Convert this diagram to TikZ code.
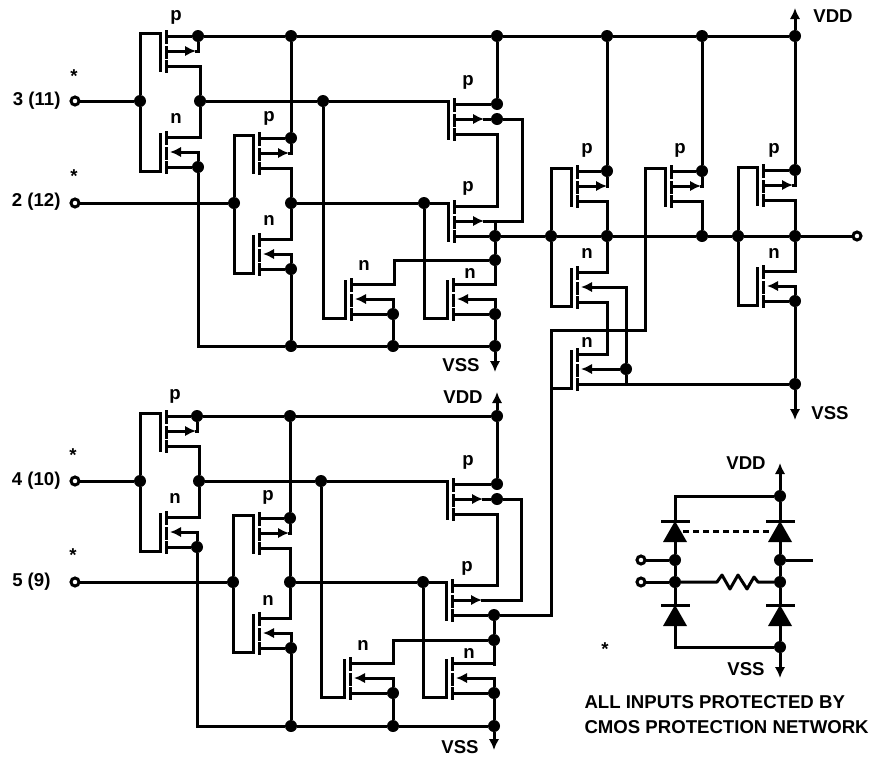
\documentclass[tikz,border=0pt]{standalone}
\usepackage{fontspec}
\usetikzlibrary{arrows.meta}
\setmainfont{Liberation Sans}

% gate bar and broken channel of one transistor
\newcommand{\mosbody}[3]{
\draw (#2,#3-18) -- (#2,#3+19);
\draw (#2+6,#3-20) -- (#2+6,#3-9) (#2+6,#3-4) -- (#2+6,#3+6) (#2+6,#3+10) -- (#2+6,#3+20);
\coordinate (#1-s) at (#2+6,#3-15);
\coordinate (#1-b) at (#2+6,#3);
\coordinate (#1-d) at (#2+6,#3+15);
}
\newcommand{\mosp}[5]{
\mosbody{#1}{#2}{#3}
\coordinate (#1-g) at (#2,#3-18);
\coordinate (#1-a) at (#2+36,#3);
\draw[->] (#1-b) -- (#1-a);
\node[mytext] (#1-t) at (#4,#5) {p};
}
\newcommand{\mosn}[5]{
\mosbody{#1}{#2}{#3}
\coordinate (#1-g) at (#2,#3+19);
\coordinate (#1-a) at (#2+10,#3);
\node[mytext] (#1-t) at (#4,#5) {n};
}
\newcommand{\diode}[3]{
\draw (#2-13,#3) -- (#2+13,#3);
\fill (#2,#3) -- (#2-12,#3+21) -- (#2+12,#3+21) -- cycle;
\coordinate (#1-c) at (#2,#3);
\coordinate (#1-a) at (#2,#3+21);
\coordinate (#1-e) at (#2+8,#3+10);
\coordinate (#1-w) at (#2-10,#3+10);
}

\begin{document}
\begin{tikzpicture}[x=1pt,y=-1pt,>={Latex[length=11pt,width=10.5pt]},line width=3pt,line cap=rect,
mydot/.style={circle,fill,inner sep=0pt,minimum size=12pt},
myport/.style={circle,draw,fill=white,inner sep=0pt,minimum size=8pt},
mytext/.style={inner sep=0pt,font=\bfseries\fontsize{18.6}{20}\selectfont}]

\useasboundingbox (0,0) rectangle (869,758);

% upper left gates
\mosp{t1}{160}{51}{176}{17}
\mosn{t2}{160}{152}{176}{118}
\mosp{t3}{253}{153}{269}{118}
\mosn{t4}{253}{254}{269}{220}
\mosp{t5}{448}{119}{468}{82}
\mosp{t6}{448}{221}{468}{188}
\mosn{t7}{345}{299}{364}{265}
\mosn{t8}{447}{299}{470}{273}
% output stages
\mosp{t9}{571}{186}{587}{150}
\mosn{t10}{571}{287}{587}{253}
\mosn{t11}{571}{369}{587}{342}
\mosp{t12}{665}{186}{680}{150}
\mosp{t13}{757}{185}{774}{150}
\mosn{t14}{757}{286}{774}{253}
% lower left gates
\mosp{t15}{160}{431}{175}{396}
\mosn{t16}{160}{532}{175}{498}
\mosp{t17}{253}{533}{268}{497}
\mosn{t18}{253}{633}{268}{600}
\mosp{t19}{447}{499}{468}{462}
\mosp{t20}{446}{600}{467}{568}
\mosn{t21}{344}{678}{363}{645}
\mosn{t22}{446}{678}{469}{653}

\coordinate[mydot](d1) at (198,36);
\coordinate[mydot](d2) at (291,36);
\coordinate[mydot](d3) at (497,36);
\coordinate[mydot](d4) at (607,36);
\coordinate[mydot](d5) at (702,36);
\coordinate[mydot](d6) at (795,36);
\coordinate[mydot](d7) at (323,101);
\coordinate[mydot](d8) at (198,167);
\coordinate[mydot](d9) at (291,138);
\coordinate[mydot](d10) at (424,203);
\coordinate[mydot](d11) at (291,269);
\coordinate[mydot](d12) at (497,104);
\coordinate[mydot](d13) at (497,119);
\coordinate[mydot](d14) at (495,260);
\coordinate[mydot](d15) at (393,314);
\coordinate[mydot](d16) at (495,314);
\coordinate[mydot](d18) at (291,346);
\coordinate[mydot](d19) at (393,346);
\coordinate[mydot](d20) at (495,346);
\coordinate[mydot](d21) at (607,171);
\coordinate[mydot](d22) at (702,171);
\coordinate[mydot](d23) at (795,170);
\coordinate[mydot](d24) at (626,369);
\coordinate[mydot](d25) at (795,384);
\coordinate[mydot](d26) at (795,301);
\coordinate[mydot](n1) at (140,101);
\coordinate[mydot](n2) at (200,101);
\coordinate[mydot](n3) at (234,203);
\coordinate[mydot](n4) at (291,203);
\coordinate[mydot](n5) at (495,236);
\coordinate[mydot](n6) at (551,236);
\coordinate[mydot](n7) at (607,236);
\coordinate[mydot](n8) at (702,236);
\coordinate[mydot](n9) at (738,236);
\coordinate[mydot](n10) at (795,236);

\coordinate[mydot](e1) at (197,416);
\coordinate[mydot](e2) at (290,416);
\coordinate[mydot](e3) at (497,416);
\coordinate[mydot](e4) at (140,481);
\coordinate[mydot](e5) at (199,481);
\coordinate[mydot](e6) at (321,481);
\coordinate[mydot](e7) at (197,547);
\coordinate[mydot](e8) at (290,518);
\coordinate[mydot](e9) at (290,582);
\coordinate[mydot](e10) at (233,582);
\coordinate[mydot](e11) at (291,726);
\coordinate[mydot](e12) at (423,582);
\coordinate[mydot](e13) at (291,648);
\coordinate[mydot](e14) at (497,484);
\coordinate[mydot](e15) at (497,499);
\coordinate[mydot](e16) at (494,615);
\coordinate[mydot](e17) at (494,640);
\coordinate[mydot](e18) at (393,693);
\coordinate[mydot](e19) at (494,693);
\coordinate[mydot](e20) at (393,726);
\coordinate[mydot](e21) at (494,726);

\coordinate[myport](i3) at (75,101);
\coordinate[myport](i2) at (75,203);
\coordinate[myport](i4) at (75,481);
\coordinate[myport](i5) at (75,582);
\coordinate[myport](o1) at (857,236);

\coordinate (vdd1) at (795,8);
\coordinate (vss1) at (495,372);
\coordinate (vss2) at (795,420);
\coordinate (vdd2) at (497,392);
\coordinate (vss3) at (494,750);
\coordinate (c1) at (522,119);
\coordinate (c2) at (522,221);
\coordinate (c3) at (521,499);
\coordinate (c4) at (521,600);
\coordinate (g1) at (551,330);
\coordinate (g2) at (645,330);
\coordinate (g3) at (551,615);

% upper left wiring
\draw (d1) -- (d2) -- (d3) -- (d4) -- (d5) -- (d6);
\draw[->] (d6) -- (vdd1);
\draw (i3) -- (n1);
\draw (i2) -- (n3);
\draw (t1-g) -| (n1) |- (t2-g);
\draw (t1-s) -- (d1);
\draw (d1) |- (t1-a);
\draw (t1-d) -| (n2) |- (t2-s);
\draw (t2-d) -- (d8);
\draw[->] (d8) |- (t2-a);
\draw (d8) |- (d18);
\draw (d18) -- (d19) -- (d20);
\draw[->] (d20) -- (vss1);
\draw (d2) -- (d9);
\draw (t3-s) -- (d9);
\draw (d9) |- (t3-a);
\draw (t3-g) -| (n3) |- (t4-g);
\draw (t3-d) -| (n4) |- (t4-s);
\draw (t4-d) -- (d11);
\draw[->] (d11) |- (t4-a);
\draw (d11) -- (d18);
\draw (n2) -- (d7) -- (t5-g);
\draw (d7) |- (t7-g);
\draw (n4) -- (d10) -- (t6-g);
\draw (d10) |- (t8-g);
\draw (d3) -- (d12) -- (d13);
\draw (t5-s) -- (d12);
\draw (t5-a) -- (d13) -- (c1) -- (c2) -- (t6-a);
\draw (t5-d) -- ++(43,0) |- (t6-s);
\draw (t6-d) -- (n5);
\draw (d14) -- (n5) -- ++(0,-15);
\draw (t8-s) -| (d14);
\draw (t7-s) -- ++(43,0) |- (d14);
\draw (t7-d) -- (d15);
\draw[->] (d15) |- (t7-a);
\draw (d15) -- (d19);
\draw (t8-d) -- (d16);
\draw[->] (d16) |- (t8-a);
\draw (d16) -- (d20);

% output stages
\draw (n5) -- (n6) -- (n7) -- (n8) -- (n9) -- (n10) -- (o1);
\draw (t9-g) -| (n6) |- (t10-g);
\draw (d4) -- (d21);
\draw (t9-s) -- (d21);
\draw (d21) |- (t9-a);
\draw (t9-d) -| (n7) |- (t10-s);
\draw[->] (d24) |- (t10-a);
\draw[->] (d24) -- (t11-a);
\draw (d24) -- ++(0,15);
\draw (t10-d) -- ++(30,0) |- (t11-s);
\draw (t11-d) -- (d25);
\draw[->] (d25) -- (vss2);
\draw (d25) -- (d26);
\draw (t12-g) -| (g2) -- (g1) -- (g3);
\draw (t11-g) -- (t11-g -| g1);
\draw (d5) -- (d22);
\draw (t12-s) -- (d22);
\draw (d22) |- (t12-a);
\draw (t12-d) -| (n8);
\draw (t13-g) -| (n9) |- (t14-g);
\draw (d6) -- (d23);
\draw (t13-s) -- (d23);
\draw (d23) |- (t13-a);
\draw (t13-d) -| (n10) |- (t14-s);
\draw (t14-d) -- (d26);
\draw[->] (d26) |- (t14-a);

% lower left wiring
\draw (e1) -- (e2) -- (e3);
\draw[->] (e3) -- (vdd2);
\draw (i4) -- (e4);
\draw (i5) -- (e10);
\draw (t15-g) -| (e4) |- (t16-g);
\draw (t15-s) -- (e1);
\draw (e1) |- (t15-a);
\draw (t15-d) -| (e5) |- (t16-s);
\draw (t16-d) -- (e7);
\draw[->] (e7) |- (t16-a);
\draw (e7) |- (e11);
\draw (e11) -- (e20) -- (e21);
\draw[->] (e21) -- (vss3);
\draw (e2) -- (e8);
\draw (t17-s) -- (e8);
\draw (e8) |- (t17-a);
\draw (t17-g) -| (e10) |- (t18-g);
\draw (t17-d) -| (e9) |- (t18-s);
\draw (t18-d) -- (e13);
\draw[->] (e13) |- (t18-a);
\draw (e13) -- (e11);
\draw (e5) -- (e6) -- (t19-g);
\draw (e6) |- (t21-g);
\draw (e9) -- (e12) -- (t20-g);
\draw (e12) |- (t22-g);
\draw (e3) -- (e14) -- (e15);
\draw (t19-s) -- (e14);
\draw (t19-a) -- (e15) -- (c3) -- (c4) -- (t20-a);
\draw (t19-d) -- ++(44,0) |- (t20-s);
\draw (t20-d) -- (e16) -- (g3);
\draw (e16) -- (e17) -- ++(0,24);
\draw (t22-s) -| (e17);
\draw (t21-s) -- ++(43,0) |- (e17);
\draw (t21-d) -- (e18);
\draw[->] (e18) |- (t21-a);
\draw (e18) -- (e20);
\draw (t22-d) -- (e19);
\draw[->] (e19) |- (t22-a);
\draw (e19) -- (e21);

% protection network
\diode{dl1}{675}{521}
\diode{dl2}{675}{605}
\diode{dr1}{780}{521}
\diode{dr2}{780}{605}
\coordinate[mydot](p1) at (780,496);
\coordinate[mydot](p2) at (675,560);
\coordinate[mydot](p3) at (675,582);
\coordinate[mydot](p4) at (780,560);
\coordinate[mydot](p5) at (780,582);
\coordinate[mydot](p6) at (780,647);
\coordinate[myport](i6) at (641,560);
\coordinate[myport](i7) at (641,582);
\coordinate (vdd3) at (780,463);
\coordinate (vss4) at (780,678);
\coordinate (s1) at (811,560);
\coordinate (r1) at (717,582);
\coordinate (r2) at (758,582);

\draw[->] (p1) -- (vdd3);
\draw (p1) -| (dl1-c);
\draw (p1) -- (dr1-c);
\draw (dl1-a) -- (p2) -- (p3) -- (dl2-c);
\draw (dr1-a) -- (p4) -- (p5) -- (dr2-c);
\draw (dl2-a) |- (p6);
\draw (dr2-a) -- (p6);
\draw[->] (p6) -- (vss4);
\draw (i6) -- (p2);
\draw (i7) -- (p3);
\draw (p4) -- (s1);
\draw[line join=round] (p3) -- (r1) -- ++(5,-7) -- ++(8,14) -- ++(8,-14) -- ++(9,14) -- ++(7,-12) -- (r2) -- (p5);
\draw[line cap=butt,dash pattern=on 6pt off 4pt] (dl1-e) -- (dr1-w);

\node[mytext,anchor=east] (l3) at (62,101) {3 (11)};
\node[mytext,anchor=east] (l2) at (62,202) {2 (12)};
\node[mytext,anchor=east] (l4) at (62,481) {4 (10)};
\node[mytext,anchor=east] (l5) at (52,582) {5 (9)};
\node[mytext] (a1) at (74,76) {*};
\node[mytext] (a2) at (74,176) {*};
\node[mytext] (a3) at (73,455) {*};
\node[mytext] (a4) at (73,555) {*};
\node[mytext] (a5) at (605,649) {*};
\node[mytext] (v1) at (833,16) {VDD};
\node[mytext] (v2) at (461,365) {VSS};
\node[mytext] (v3) at (830,413) {VSS};
\node[mytext] (v4) at (463,397) {VDD};
\node[mytext] (v5) at (460,747) {VSS};
\node[mytext] (v6) at (746,463) {VDD};
\node[mytext] (v7) at (746,669) {VSS};
\node[mytext,anchor=west] (n11) at (583,702) {ALL INPUTS PROTECTED BY};
\node[mytext,anchor=west] (n12) at (583,727) {CMOS PROTECTION NETWORK};

\end{tikzpicture}
\end{document}
